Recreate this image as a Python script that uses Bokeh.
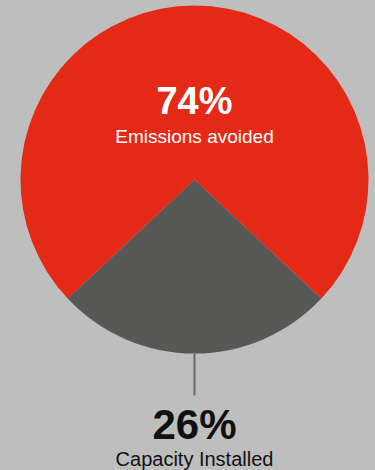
import math
import numpy as np
from bokeh.plotting import figure
from bokeh.models import Range1d, Label
from bokeh.embed import file_html
from bokeh.resources import INLINE

# ---- data ----
categories = ["Capacity Installed", "Emissions avoided"]
shares = [26, 74]
share_labels = ["26%", "74%"]
colors = ["#585856", "#E42916"]

BG = "#BEBEBE"
W, H = 375, 470
R_PX = 174.0           # pie radius in pixels
CX, CY = 194.0, 179.0  # pie centre in figure pixels (from top-left)

p = figure(width=W, height=H, output_backend="svg", toolbar_location=None,
           x_range=Range1d(-CX / R_PX, (W - CX) / R_PX),
           y_range=Range1d(-(H - CY) / R_PX, CY / R_PX),
           min_border=0, background_fill_color=BG, border_fill_color=BG)
p.axis.visible = False
p.grid.visible = False
p.outline_line_color = None

# angles: first slice (capacity) centred at the bottom
fr = np.array(shares, dtype=float) / sum(shares)
span = fr * 2 * math.pi
start0 = 1.5 * math.pi - span[0] / 2
starts = start0 + np.concatenate([[0], np.cumsum(span)[:-1]])
ends = starts + span

p.wedge(x=0, y=0, radius=1, start_angle=list(starts), end_angle=list(ends),
        fill_color=colors, line_color=None)

# leader line
p.segment(x0=[0], y0=[-1.0], x1=[0], y1=[-(395 - CY) / R_PX],
          line_color="#6a6a6a", line_width=2)

font = "Liberation Sans"
def lab(txt, ypx, size, bold, color):
    p.add_layout(Label(x=0, y=(CY - ypx) / R_PX, text=txt, text_align="center",
                       text_baseline="alphabetic", text_font=font,
                       text_font_style="bold" if bold else "normal",
                       text_font_size=f"{size}px", text_color=color))

lab(share_labels[1], 100, 38, True, "white")
lab(categories[1], 136, 19, False, "white")
lab(share_labels[0], 424, 42, True, "#111111")
lab(categories[0], 458, 20, False, "#111111")

tmpl = """{% block preamble %}<style>html, body { background: #BEBEBE; }</style>{% endblock %}"""
open("out.html", "w").write(file_html(p, INLINE, template=tmpl))
